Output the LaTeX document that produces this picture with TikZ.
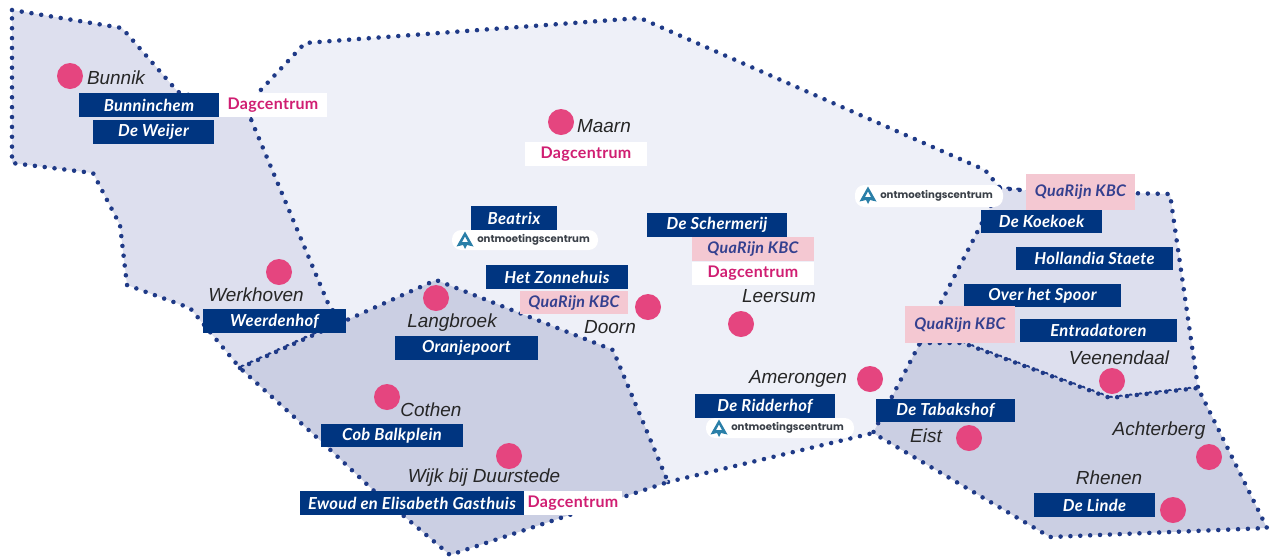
\documentclass[tikz,border=0pt]{standalone}
\usepackage{fontspec}
\setmainfont{Liberation Sans}
\newfontfamily\boxfont[LetterSpace=2]{Lato}
\newfontfamily\omcfont{Poppins}
\definecolor{navy}{HTML}{003580}
\definecolor{dotblue}{HTML}{1F3A87}
\definecolor{pinkdot}{HTML}{E5457F}
\definecolor{pinktxt}{HTML}{D01E72}
\definecolor{rosebg}{HTML}{F4C8D2}
\definecolor{quatxt}{HTML}{34408F}
\definecolor{regA}{HTML}{EEF0F8}
\definecolor{regB}{HTML}{DDDFEE}
\definecolor{regC}{HTML}{CBCFE3}
\definecolor{logoblue}{HTML}{2A7FA8}
\definecolor{omctxt}{HTML}{3A4048}
\tikzset{
  region/.style={draw=dotblue,line width=3.4pt,line cap=round,line join=round,dash pattern=on 0pt off 7.4pt},
  town/.style={circle,fill=pinkdot,minimum size=19.5pt,inner sep=0pt},
  place/.style={font=\fontsize{14.2}{16}\selectfont\itshape,text=black!85,inner sep=0pt},
  tag/.style={inner sep=0pt,font=\boxfont\fontsize{12}{14}\selectfont\bfseries},
  navybox/.style={tag,fill=navy,text=white,font=\boxfont\fontsize{12.4}{14}\selectfont\bfseries\itshape},
  daybox/.style={tag,fill=white,text=pinktxt},
  quabox/.style={tag,fill=rosebg,text=quatxt,font=\boxfont\fontsize{12}{14}\selectfont\bfseries\itshape},
  pill/.style={fill=white,rounded corners=7pt,inner sep=0pt},
  omctext/.style={font=\omcfont\fontsize{7.6}{9}\selectfont\bfseries,text=omctxt,inner sep=0pt,anchor=west}
}
% #1 style, #2 name, #3 x1, #4 y1, #5 x2, #6 y2, #7 text
\newcommand{\lbl}[7]{%
  \node[#1,minimum width={(#5-#3)*0.75pt},minimum height={(#6-#4)*0.75pt}] (#2) at ({(#3+#5)/2},{(#4+#6)/2}) {#7};}
% #1 name, #2 x1, #3 y1, #4 x2, #5 y2
\newcommand{\omc}[5]{%
  \node[pill,minimum width={(#4-#2)*0.75pt},minimum height={(#5-#3)*0.75pt}] (#1) at ({(#2+#4)/2},{(#3+#5)/2}) {};
  \fill[logoblue,even odd rule] ({#2+13},{#3+1.5}) -- ({#2+4.5},{#3+16.5}) -- ({#2+11},{#3+15}) -- ({#2+13},{#3+19}) -- ({#2+15},{#3+15}) -- ({#2+21.5},{#3+16.5}) -- cycle
     ({#2+13},{#3+6.5}) -- ({#2+10},{#3+12}) -- ({#2+16},{#3+12}) -- cycle;
  \node[omctext] (#1t) at ({#2+25},{(#3+#5)/2}) {ontmoetingscentrum};}
\begin{document}
\begin{tikzpicture}[x=0.75pt,y=-0.75pt]
\useasboundingbox (0,0) rectangle (1275,558);
\fill[white] (0,0) rectangle (1275,558);
% regions
\fill[regA] (305,43) -- (640,18) -- (985,170) -- (1000,188) -- (873,433) -- (668,482) -- (345,320) -- (330,308) -- (250,117) -- (258,93) -- cycle;
\draw[region] (250,117) -- (258,93) -- (305,43) -- (640,18) -- (985,170) -- (1000,188) -- (1030,191);
\draw[region] (668,482) -- (873,433);
\fill[regB] (12,10) -- (122,28) -- (178,92) -- (215,102) -- (250,117) -- (330,308) -- (345,320) -- (240,368) -- (190,308) -- (127,285) -- (120,225) -- (93,173) -- (12,163) -- cycle;
\draw[region] (12,10) -- (122,28) -- (178,92) -- (215,102) -- (250,117) -- (330,308) -- (345,320) -- (240,368) -- (190,308) -- (127,285) -- (120,225) -- (93,173) -- (12,163) -- cycle;
\filldraw[region,fill=regB] (1000,188) -- (1030,191) -- (1170,194) -- (1198,388) -- (1110,398) -- (963,343) -- (920,343) -- cycle;
\filldraw[region,fill=regC] (240,368) -- (436,280) -- (613,350) -- (668,482) -- (450,555) -- (373,490) -- (323,443) -- cycle;
\filldraw[region,fill=regC] (920,343) -- (963,343) -- (1110,398) -- (1198,388) -- (1267,528) -- (1050,537) -- (873,433) -- cycle;
% towns
\node[town] (bunnik) at (70,76) {};
\node[town] (maarn) at (561,122) {};
\node[town] (werkhoven) at (279,272) {};
\node[town] (langbroek) at (436,298) {};
\node[town] (doorn) at (648,307) {};
\node[town] (leersum) at (741,324) {};
\node[town] (cothen) at (387,397) {};
\node[town] (wijk) at (509,456) {};
\node[town] (amerongen) at (870,379) {};
\node[town] (eist) at (969,438) {};
\node[town] (veenendaal) at (1112,381) {};
\node[town] (achterberg) at (1209,457) {};
\node[town] (rhenen) at (1173,510) {};
% place names
\node[place] (tbunnik) at (116,78) {Bunnik};
\node[place] (tmaarn) at (604,126) {Maarn};
\node[place] (twerkhoven) at (256,295) {Werkhoven};
\node[place] (tlangbroek) at (452,323) {Langbroek};
\node[place] (tdoorn) at (610,327) {Doorn};
\node[place] (tleersum) at (779,296) {Leersum};
\node[place] (tcothen) at (431,410) {Cothen};
\node[place] (twijk) at (484,478) {Wijk bij Duurstede};
\node[place] (tamerongen) at (798,379) {Amerongen};
\node[place] (teist) at (926,436) {Eist};
\node[place] (tveenendaal) at (1119,358) {Veenendaal};
\node[place] (tachterberg) at (1159,431) {Achterberg};
\node[place] (trhenen) at (1109,478) {Rhenen};
% labels
\lbl{navybox}{bunninchem}{79}{93}{219}{117}{Bunninchem}
\lbl{daybox}{dag1}{219}{93}{327}{117}{Dagcentrum}
\lbl{navybox}{weijer}{93}{120}{214}{144}{De Weijer}
\lbl{daybox}{dag2}{525}{142}{647}{166}{Dagcentrum}
\lbl{navybox}{beatrix}{471}{206}{557}{230}{Beatrix}
\omc{omc1}{452}{230}{598}{250}
\lbl{navybox}{zonnehuis}{486}{265}{628}{289}{Het Zonnehuis}
\lbl{quabox}{qua1}{520}{291}{628}{314}{QuaRijn KBC}
\lbl{navybox}{schermerij}{647}{213}{787}{237}{De Schermerij}
\lbl{quabox}{qua2}{692}{237}{814}{261}{QuaRijn KBC}
\lbl{daybox}{dag3}{692}{262}{814}{285}{Dagcentrum}
\lbl{navybox}{ridderhof}{695}{394}{835}{418}{De Ridderhof}
\omc{omc2}{706}{418}{854}{438}
\lbl{navybox}{weerdenhof}{203}{309}{346}{333}{Weerdenhof}
\lbl{navybox}{oranjepoort}{395}{336}{538}{360}{Oranjepoort}
\lbl{navybox}{cob}{321}{424}{463}{447}{Cob Balkplein}
\lbl{navybox}{ewoud}{300}{491}{524}{515}{Ewoud en Elisabeth Gasthuis}
\lbl{daybox}{dag4}{524}{491}{622}{515}{Dagcentrum}
\omc{omc3}{855}{185}{1003}{207}
\lbl{quabox}{qua3}{1026}{174}{1135}{210}{QuaRijn KBC}
\lbl{navybox}{koekoek}{981}{210}{1102}{233}{De Koekoek}
\lbl{navybox}{hollandia}{1016}{247}{1173}{270}{Hollandia Staete}
\lbl{navybox}{spoor}{964}{284}{1121}{307}{Over het Spoor}
\lbl{quabox}{qua4}{905}{306}{1015}{343}{QuaRijn KBC}
\lbl{navybox}{entra}{1020}{319}{1177}{342}{Entradatoren}
\lbl{navybox}{tabakshof}{876}{399}{1015}{422}{De Tabakshof}
\lbl{navybox}{linde}{1034}{493}{1155}{517}{De Linde}
\end{tikzpicture}
\end{document}
